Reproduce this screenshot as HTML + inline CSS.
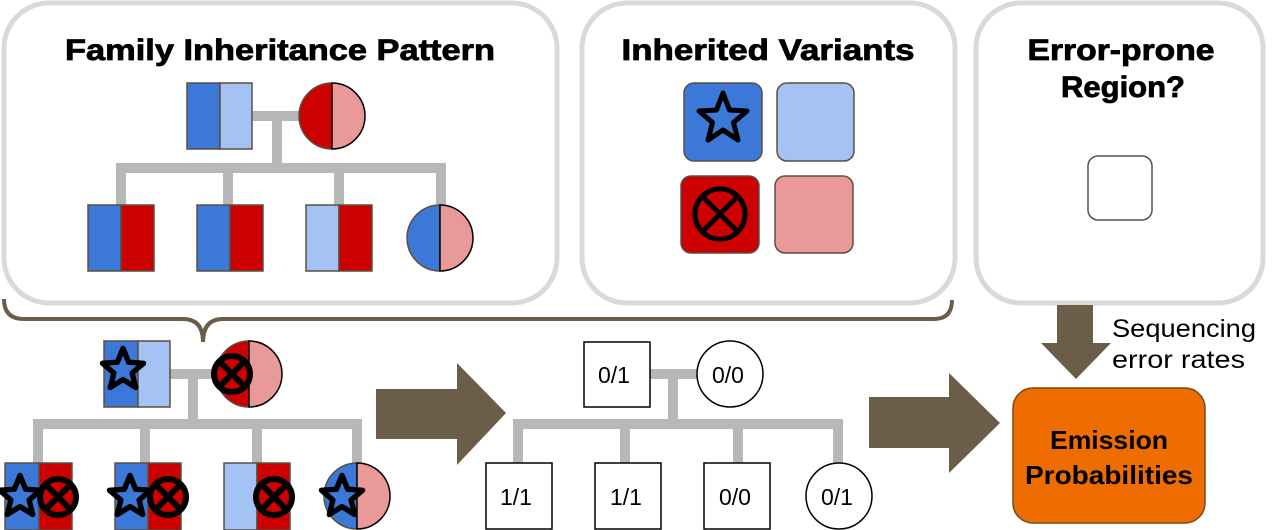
<!DOCTYPE html>
<html><head><meta charset="utf-8"><style>
html,body{margin:0;padding:0;background:#fff;}
svg{display:block;}
text{font-family:"Liberation Sans",sans-serif;}
</style></head><body>
<svg width="1280" height="530" viewBox="0 0 1280 530" xmlns="http://www.w3.org/2000/svg">
<defs>
<symbol id="star" viewBox="-20 -20 40 40" overflow="visible">
<polygon points="0,-18 4.7,-6.5 17.1,-5.6 7.6,2.5 10.6,14.6 0,8 -10.6,14.6 -7.6,2.5 -17.1,-5.6 -4.7,-6.5" fill="#3c78d8" stroke="#000" stroke-width="4.5" stroke-linejoin="round"/>
</symbol>
<symbol id="cross" viewBox="-20 -20 40 40" overflow="visible">
<circle cx="0" cy="0" r="15" fill="#cc0000" stroke="#000" stroke-width="5"/>
<line x1="-10" y1="-10" x2="10" y2="10" stroke="#000" stroke-width="5"/>
<line x1="10" y1="-10" x2="-10" y2="10" stroke="#000" stroke-width="5"/>
</symbol>
</defs>

<!-- panel boxes -->
<rect x="4" y="3" width="553" height="300" rx="45" fill="#fff" stroke="#d9d9d9" stroke-width="5"/>
<rect x="582" y="3" width="373" height="300" rx="45" fill="#fff" stroke="#d9d9d9" stroke-width="5"/>
<rect x="976" y="3" width="287" height="300" rx="45" fill="#fff" stroke="#d9d9d9" stroke-width="5"/>

<g stroke="#000" stroke-width="0.8">
<text x="280" y="60" font-size="30" font-weight="bold" text-anchor="middle" textLength="430" lengthAdjust="spacingAndGlyphs">Family Inheritance Pattern</text>
<text x="768" y="60" font-size="30" font-weight="bold" text-anchor="middle" textLength="293" lengthAdjust="spacingAndGlyphs">Inherited Variants</text>
<text x="1121" y="60" font-size="30" font-weight="bold" text-anchor="middle" textLength="187" lengthAdjust="spacingAndGlyphs">Error-prone</text>
<text x="1123" y="97" font-size="30" font-weight="bold" text-anchor="middle" textLength="124" lengthAdjust="spacingAndGlyphs">Region?</text>
</g>

<!-- top pedigree -->
<g stroke="#b7b7b7" stroke-width="10" fill="none">
<line x1="252" y1="116" x2="300" y2="116"/>
<line x1="277" y1="116" x2="277" y2="168"/>
<line x1="116" y1="168" x2="446" y2="168"/>
<line x1="121" y1="163" x2="121" y2="206"/>
<line x1="228" y1="168" x2="228" y2="206"/>
<line x1="339" y1="168" x2="339" y2="206"/>
<line x1="441" y1="163" x2="441" y2="206"/>
</g>
<g stroke="#5b5040" stroke-width="1.5">
<rect x="187" y="83" width="33" height="66" fill="#3c78d8"/><rect x="220" y="83" width="32" height="66" fill="#a4c2f4"/>
<path d="M332,83 A33,33 0 0 0 332,149 Z" fill="#cc0000"/><path d="M332,83 A33,33 0 0 1 332,149 Z" fill="#ea9999" stroke="#000"/>
<rect x="88" y="205" width="33" height="66" fill="#3c78d8"/><rect x="121" y="205" width="33" height="66" fill="#cc0000"/>
<rect x="197" y="205" width="33" height="66" fill="#3c78d8"/><rect x="230" y="205" width="33" height="66" fill="#cc0000"/>
<rect x="306" y="205" width="33" height="66" fill="#a4c2f4"/><rect x="339" y="205" width="33" height="66" fill="#cc0000"/>
<path d="M440,205 A33,33 0 0 0 440,271 Z" fill="#3c78d8"/><path d="M440,205 A33,33 0 0 1 440,271 Z" fill="#ea9999" stroke="#000"/>
</g>

<!-- variant tiles -->
<g stroke="#5b5040" stroke-width="1.5">
<rect x="684" y="83" width="78" height="78" rx="10" fill="#3c78d8"/>
<rect x="777" y="83" width="77" height="78" rx="10" fill="#a4c2f4"/>
<rect x="681" y="176" width="78" height="77" rx="10" fill="#cc0000"/>
<rect x="775" y="176" width="78" height="77" rx="10" fill="#ea9999"/>
<rect x="1088" y="156" width="64" height="64" rx="10" fill="#fff"/>
</g>
<polygon points="723,93 729.5,110 747,111 733.5,122.5 738,140 723,130 708,140 712.5,122.5 699,111 716.5,110" fill="#3c78d8" stroke="#000" stroke-width="5" stroke-linejoin="round"/>
<circle cx="720" cy="214" r="25" fill="none" stroke="#000" stroke-width="5"/>
<line x1="703" y1="197" x2="737" y2="231" stroke="#000" stroke-width="5"/>
<line x1="737" y1="197" x2="703" y2="231" stroke="#000" stroke-width="5"/>

<!-- brace -->
<path d="M4,299 Q4,319 24,319 L183,319 Q203,319 203,342 Q203,319 223,319 L934,319 Q952,319 952,300" fill="none" stroke="#6b5e48" stroke-width="4"/>

<!-- bottom-left pedigree -->
<g stroke="#b7b7b7" stroke-width="10" fill="none">
<line x1="170" y1="374" x2="213" y2="374"/>
<line x1="193" y1="374" x2="193" y2="424"/>
<line x1="33" y1="424" x2="362" y2="424"/>
<line x1="38" y1="419" x2="38" y2="464"/>
<line x1="145" y1="424" x2="145" y2="464"/>
<line x1="257" y1="424" x2="257" y2="464"/>
<line x1="357" y1="419" x2="357" y2="464"/>
</g>
<g stroke="#5b5040" stroke-width="1.5">
<rect x="104" y="341" width="34" height="66" fill="#3c78d8"/><rect x="138" y="341" width="32" height="66" fill="#a4c2f4"/>
<path d="M249,341 A33,33 0 0 0 249,407 Z" fill="#cc0000"/><path d="M249,341 A33,33 0 0 1 249,407 Z" fill="#ea9999" stroke="#000"/>
<rect x="5" y="463" width="34" height="67" fill="#3c78d8"/><rect x="39" y="463" width="33" height="67" fill="#cc0000"/>
<rect x="115" y="463" width="33" height="67" fill="#3c78d8"/><rect x="148" y="463" width="33" height="67" fill="#cc0000"/>
<rect x="224" y="463" width="33" height="67" fill="#a4c2f4"/><rect x="257" y="463" width="33" height="67" fill="#cc0000"/>
<path d="M357,463 A33,33 0 0 0 357,529 Z" fill="#3c78d8"/><path d="M357,463 A33,33 0 0 1 357,529 Z" fill="#ea9999" stroke="#000"/>
</g>
<use href="#star" x="99" y="346" width="48" height="48"/>
<use href="#cross" x="208" y="350" width="48" height="48"/>
<use href="#star" x="-4" y="473" width="48" height="48"/>
<use href="#cross" x="34" y="473" width="48" height="48"/>
<use href="#star" x="106" y="473" width="48" height="48"/>
<use href="#cross" x="144" y="473" width="48" height="48"/>
<use href="#cross" x="250" y="473" width="48" height="48"/>
<use href="#star" x="318" y="473" width="48" height="48"/>

<!-- arrows -->
<g fill="#6b5e48">
<polygon points="376,389 457,389 457,363 506,413 457,465 457,439 376,439"/>
<polygon points="869,397 949,397 949,373 1000,423 949,473 949,448 869,448"/>
<polygon points="1057,305 1093,305 1093,343 1111,343 1076,379 1041,343 1057,343"/>
</g>

<!-- genotype pedigree -->
<g stroke="#b7b7b7" stroke-width="10" fill="none">
<line x1="650" y1="374" x2="697" y2="374"/>
<line x1="673" y1="374" x2="673" y2="424"/>
<line x1="517" y1="424" x2="840" y2="424"/>
<line x1="518" y1="419" x2="518" y2="464"/>
<line x1="625" y1="424" x2="625" y2="464"/>
<line x1="738" y1="424" x2="738" y2="464"/>
<line x1="838" y1="419" x2="838" y2="464"/>
</g>
<g stroke="#000" stroke-width="1.5" fill="#fff">
<rect x="584" y="342" width="66" height="65"/>
<circle cx="730" cy="374" r="33"/>
<rect x="486" y="463" width="66" height="66"/>
<rect x="595" y="463" width="66" height="66"/>
<rect x="704" y="463" width="66" height="66"/>
<circle cx="839" cy="496" r="33"/>
</g>
<g font-size="23" text-anchor="middle">
<text x="614" y="383">0/1</text>
<text x="728" y="383">0/0</text>
<text x="516" y="505">1/1</text>
<text x="626" y="505">1/1</text>
<text x="735" y="505">0/0</text>
<text x="837" y="505">0/1</text>
</g>

<!-- emission -->
<rect x="1013" y="388" width="192" height="135" rx="20" fill="#ee6c00" stroke="#7a4a1a" stroke-width="1.5"/>
<text x="1109" y="449" font-size="26" font-weight="bold" text-anchor="middle" textLength="118" lengthAdjust="spacingAndGlyphs">Emission</text>
<text x="1109" y="484" font-size="26" font-weight="bold" text-anchor="middle" textLength="168" lengthAdjust="spacingAndGlyphs">Probabilities</text>
<text x="1112" y="337" font-size="25" textLength="144" lengthAdjust="spacingAndGlyphs">Sequencing</text>
<text x="1112" y="368" font-size="25" textLength="133" lengthAdjust="spacingAndGlyphs">error rates</text>
</svg>
</body></html>
